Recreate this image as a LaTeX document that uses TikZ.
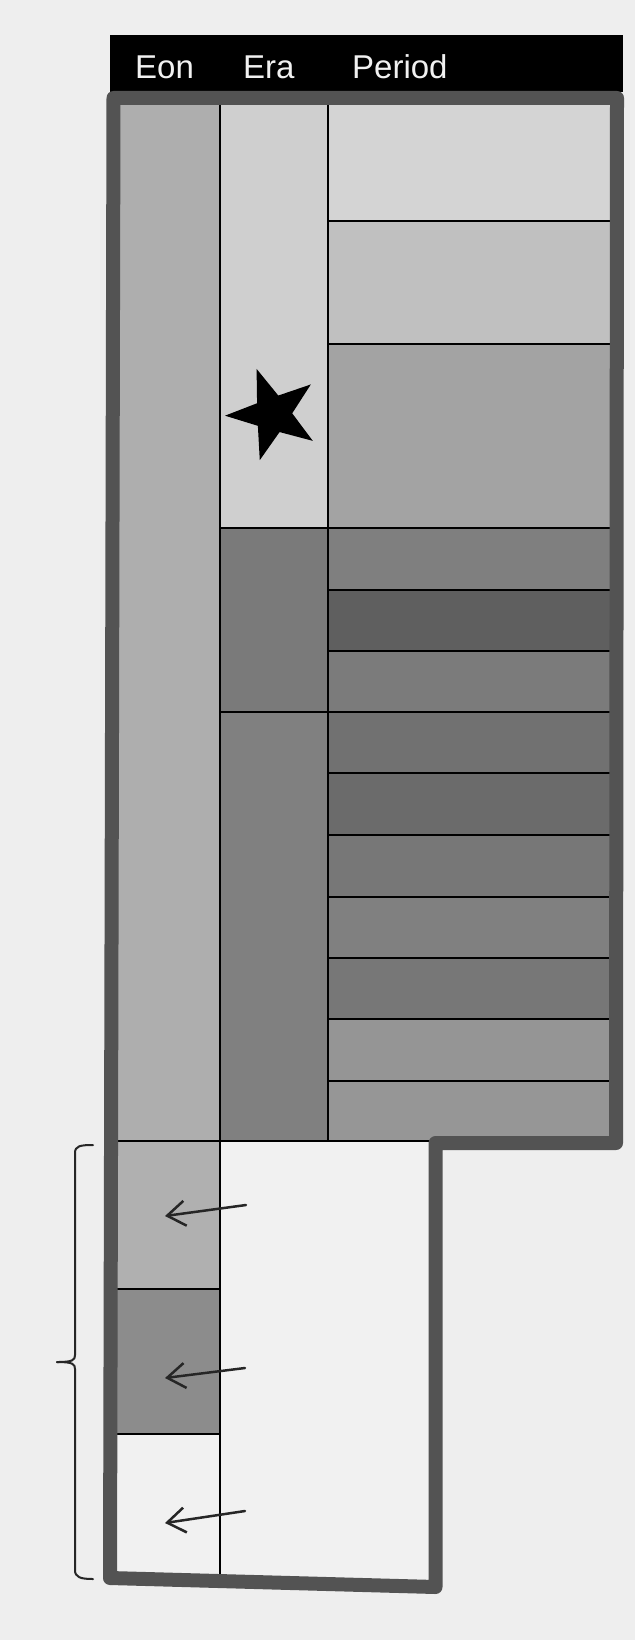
\documentclass[tikz,border=0pt]{standalone}
\usepackage{fontspec}
\setmainfont{Liberation Sans}
\usetikzlibrary{shapes.geometric,arrows.meta}
\definecolor{bg}{HTML}{EEEEEE}
\definecolor{frame}{HTML}{535353}
\definecolor{lowbg}{HTML}{F1F1F1}
\tikzset{
  cell/.style={draw=none},
  sep/.style={draw=black,line width=2.8pt},
  hdr/.style={anchor=base west,text=lowbg,inner sep=0pt,font=\fontsize{33}{40}\selectfont},
  pointer/.style={draw=black!85,line width=2.5pt,line cap=round,-{Straight Barb[length=18pt,width=25pt,line width=2.5pt]}},
  bracket/.style={draw=black!85,line width=2pt,line cap=round},
}
\begin{document}
\begin{tikzpicture}[x=1pt,y=-1pt]
\useasboundingbox (0,0) rectangle (635,1640);
\fill[bg] (0,0) rectangle (635,1640);
% header
\fill[black] (110,35) rectangle (623,92);
\node[hdr] (eon) at (135,79) {Eon};
\node[hdr] (era) at (243,79) {Era};
\node[hdr] (period) at (352,79) {Period};
% lower interior
\fill[lowbg] (113,1141) rectangle (435,1587);
% Eon column
\fill[cell,fill={rgb,255:red,174;green,174;blue,174}] (113,98) rectangle (220,1141);
\fill[fill={rgb,255:red,176;green,176;blue,176}] (113,1141) rectangle (220,1289);
\fill[fill={rgb,255:red,140;green,140;blue,140}] (113,1289) rectangle (220,1434);
% Era column
\fill[fill={rgb,255:red,207;green,207;blue,207}] (220,98) rectangle (328,528);
\fill[fill={rgb,255:red,122;green,122;blue,122}] (220,528) rectangle (328,712);
\fill[fill={rgb,255:red,128;green,128;blue,128}] (220,712) rectangle (328,1141);
% Period column
\fill[fill={rgb,255:red,212;green,212;blue,212}] (328,98) rectangle (618,221);
\fill[fill={rgb,255:red,192;green,192;blue,192}] (328,221) rectangle (618,344);
\fill[fill={rgb,255:red,163;green,163;blue,163}] (328,344) rectangle (618,528);
\fill[fill={rgb,255:red,127;green,127;blue,127}] (328,528) rectangle (618,590);
\fill[fill={rgb,255:red,95;green,95;blue,95}] (328,590) rectangle (618,651);
\fill[fill={rgb,255:red,123;green,123;blue,123}] (328,651) rectangle (618,712);
\fill[fill={rgb,255:red,113;green,113;blue,113}] (328,712) rectangle (618,773);
\fill[fill={rgb,255:red,107;green,107;blue,107}] (328,773) rectangle (618,835);
\fill[fill={rgb,255:red,119;green,119;blue,119}] (328,835) rectangle (618,897);
\fill[fill={rgb,255:red,128;green,128;blue,128}] (328,897) rectangle (618,958);
\fill[fill={rgb,255:red,119;green,119;blue,119}] (328,958) rectangle (618,1019);
\fill[fill={rgb,255:red,149;green,149;blue,149}] (328,1019) rectangle (618,1081);
\fill[fill={rgb,255:red,150;green,150;blue,150}] (328,1081) rectangle (618,1142);
% separator lines
\draw[sep] (220,98) -- (220,1578);
\draw[sep] (328,98) -- (328,1141);
\foreach \yy in {221,344,590,651,773,835,897,958,1019,1081} \draw[sep] (328,\yy) -- (618,\yy);
\draw[sep] (220,528) -- (618,528);
\draw[sep] (220,712) -- (618,712);
\draw[sep] (113,1141) -- (435,1141);
\draw[sep] (113,1289) -- (220,1289);
\draw[sep] (113,1434) -- (220,1434);
% star
\node[star,star points=5,star point ratio=2.5,minimum size=96pt,inner sep=0pt,fill=black,rotate=20] (star) at (273,414) {};
% outer frame
\draw[frame,line width=14pt,line join=round] (113.5,98) -- (617,98) -- (616,1143) -- (435.5,1143) -- (435.5,1587) -- (110,1578) -- cycle;
% arrows
\coordinate (a1s) at (246,1205); \coordinate (a1e) at (165,1216);
\coordinate (a2s) at (245,1368); \coordinate (a2e) at (165,1378);
\coordinate (a3s) at (245,1511); \coordinate (a3e) at (165,1523);
\draw[pointer] (a1s) -- (a1e);
\draw[pointer] (a2s) -- (a2e);
\draw[pointer] (a3s) -- (a3e);
% brace
\coordinate (btop) at (93,1145);
\coordinate (btip) at (57,1362);
\coordinate (bbot) at (93,1579);
\draw[bracket] (btop) .. controls (80,1145) and (75,1146) .. (75,1153) -- (75,1355) .. controls (75,1360) and (73,1362) .. (btip);
\draw[bracket] (btip) .. controls (73,1362) and (75,1364) .. (75,1369) -- (75,1570) .. controls (75,1577) and (80,1579) .. (bbot);
\end{tikzpicture}
\end{document}
